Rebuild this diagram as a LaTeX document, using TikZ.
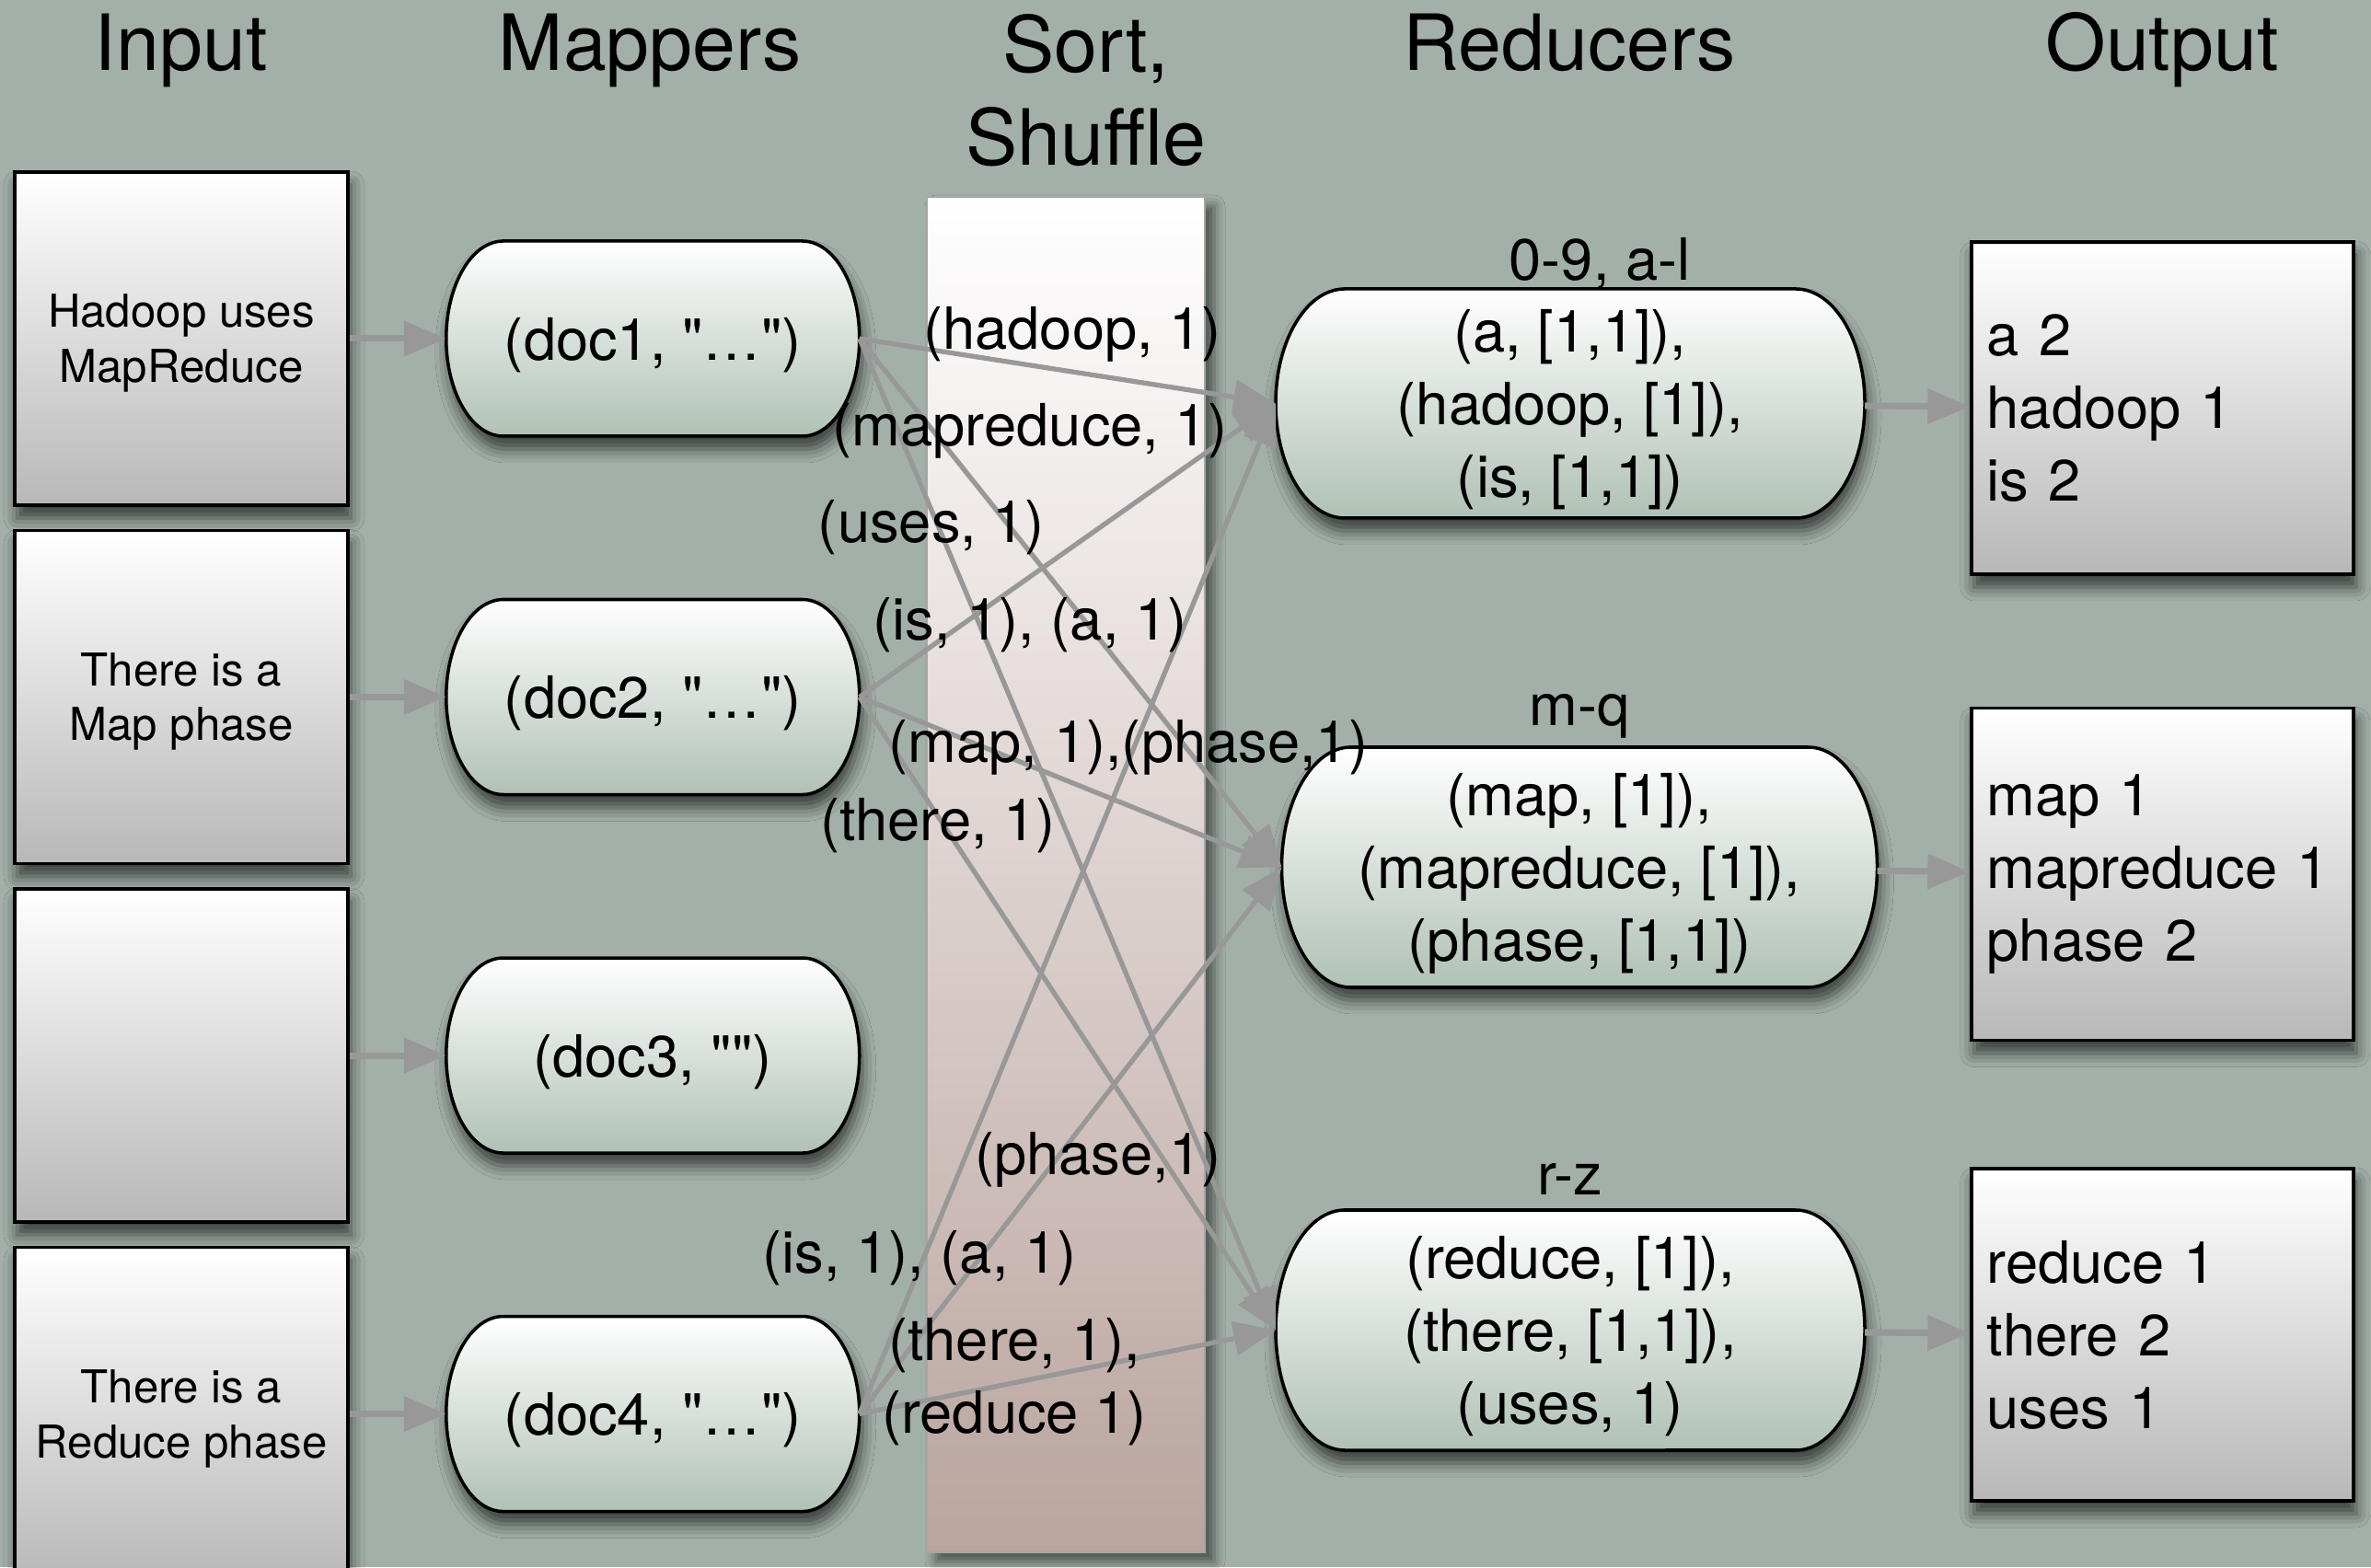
\documentclass[tikz,border=0pt]{standalone}
\usepackage{fontspec}
\setmainfont{TeX Gyre Heros}[Ligatures=TeXOff]
\usepackage{tikz}
\usetikzlibrary{positioning}
\usetikzlibrary{calc}
\usetikzlibrary{arrows.meta}
\usetikzlibrary{shadows.blur}
\usetikzlibrary{backgrounds}
\definecolor{bggreen}{RGB}{163,176,169}
\definecolor{boxgray}{RGB}{184,184,184}
\definecolor{pillgreen}{RGB}{176,193,181}
\definecolor{sortrose}{RGB}{186,164,158}
\definecolor{arrowgray}{RGB}{152,152,152}
\newcommand{\midfont}{\fontsize{18}{22.5}\selectfont}
\newcommand{\pill}[3]{%
	\path[pillface] ($(#1.north west)+(#2,0)$) -- ($(#1.north east)+(-#2,0)$)
		arc[start angle=90,end angle=-90,x radius=#2,y radius=#3]
		-- ($(#1.south west)+(#2,0)$)
		arc[start angle=270,end angle=90,x radius=#2,y radius=#3] -- cycle;}
\tikzset{
	title/.style={font=\fontsize{24}{29}\selectfont,align=center,anchor=base},
	softshadow/.style={blur shadow={shadow xshift=0.3mm,shadow yshift=-1.4mm,shadow blur radius=1.5mm,shadow opacity=65}},
	inbox/.style={draw,line width=1pt,top color=white,bottom color=boxgray,softshadow,
		minimum width=3.62cm,minimum height=3.62cm,align=center,font=\fontsize{14}{17}\selectfont,
		text height=30pt,text depth=3pt},
	outbox/.style={draw,line width=1pt,top color=white,bottom color=boxgray,softshadow,
		text width=3.81cm,inner xsep=0.17cm,minimum height=3.61cm,align=left,font=\midfont},
	mapper/.style={minimum width=4.49cm,minimum height=2.12cm,inner sep=0pt,outer sep=0pt,font=\midfont,
		text height=17pt,text depth=3.8pt},
	reducer/.style={minimum width=6.4cm,minimum height=2.61cm,inner sep=0pt,outer sep=0pt,align=center,font=\midfont,
		text height=61.8pt,text depth=3.8pt},
	pillface/.style={draw,line width=1pt,top color=white,bottom color=pillgreen,softshadow},
	sortbar/.style={top color=white,bottom color=sortrose,draw=gray!70,line width=0.3pt,
		blur shadow={shadow xshift=1mm,shadow yshift=-1mm,shadow blur radius=1.2mm,shadow opacity=55}},
	pair/.style={font=\midfont,inner sep=0pt,align=center},
	flow/.style={->,draw=arrowgray,line width=2pt},
	shuffle/.style={->,draw=arrowgray,line width=1.5pt}
}
\begin{document}
\begin{tikzpicture}[>={Triangle[length=13pt,width=10.5pt]}]
	\useasboundingbox (0,0) rectangle (25.76,17.03);
	\node[title] (tin) at (1.97,16.26) {Input};
	\node[title] (tmap) at (7.06,16.26) {Mappers};
	\node[title] (tsort) at (11.80,15.23) {Sort,\\Shuffle};
	\node[title] (tred) at (17.05,16.26) {Reducers};
	\node[title] (tout) at (23.49,16.26) {Output};

	\node[inbox] (in1) at (1.97,13.35) {Hadoop uses\\MapReduce};
	\node[inbox,below=0.24cm of in1] (in2) {There is a\\Map phase};
	\node[inbox,below=0.24cm of in2] (in3) {};
	\node[inbox,below=0.24cm of in3] (in4) {There is a\\Reduce phase};

	\node[mapper,right=1.05cm of in1] (m1) {(doc1, "…")};
	\node[mapper,right=1.05cm of in2] (m2) {(doc2, "…")};
	\node[mapper,right=1.05cm of in3] (m3) {(doc3, "")};
	\node[mapper,right=1.05cm of in4] (m4) {(doc4, "…")};

	\node[reducer,minimum height=2.49cm] (r1) at (17.06,12.645) {(a, [1,1]),\\(hadoop, [1]),\\(is, [1,1])};
	\node[reducer,minimum width=6.47cm] (r2) at (17.16,7.605) {(map, [1]),\\(mapreduce, [1]),\\(phase, [1,1])};
	\node[reducer] (r3) at (17.06,2.575) {(reduce, [1]),\\(there, [1,1]),\\(uses, 1)};
	\node[pair,anchor=base] (k1) at ($(r1.north)+(0.32,0.09)$) {0-9, a-l};
	\node[pair,anchor=base] (k2) at ($(r2.north)+(0,0.23)$) {m-q};
	\node[pair,anchor=base] (k3) at ($(r3.north)+(0,0.17)$) {r-z};

	\node[outbox,right=1.14cm of r1,yshift=-0.05cm] (o1) {a 2\\hadoop 1\\is 2};
	\node[outbox,below=1.42cm of o1] (o2) {map 1\\mapreduce 1\\phase 2};
	\node[outbox,right=1.14cm of r3,yshift=-0.05cm] (o3) {reduce 1\\there 2\\uses 1};

	\begin{scope}[on background layer]
		\fill[bggreen] (0,0) rectangle (25.76,17.03);
		\path[sortbar] (10.07,0.16) rectangle (13.09,14.89);
		\foreach \n in {m1,m2,m3,m4} \pill{\n}{0.62}{1.06};
		\pill{r1}{0.75}{1.245};
		\pill{r2}{0.75}{1.305};
		\pill{r3}{0.75}{1.305};
	\end{scope}

	\foreach \i in {1,...,4} \draw[flow] (in\i) -- (m\i);
	\foreach \i in {1,2,3} \draw[flow] (r\i) -- (o\i);
	\foreach \m in {m1,m2,m4} {
		\draw[shuffle] (\m.east) -- (r1.west);
		\draw[shuffle] (\m.east) -- (r2.west);
		\draw[shuffle] (\m.east) -- (r3.west);
	}

	\node[pair] (p1) at (11.65,13.40) {(hadoop, 1)};
	\node[pair] (p2) at (11.19,12.35) {(mapreduce, 1)};
	\node[pair] (p3) at (10.12,11.30) {(uses, 1)};
	\node[pair] (p4) at (11.19,10.24) {(is, 1), (a, 1)};
	\node[pair] (p5) at (12.26,8.91) {(map, 1),(phase,1)};
	\node[pair] (p6) at (10.19,8.06) {(there, 1)};
	\node[pair] (p7) at (11.93,4.43) {(phase,1)};
	\node[pair] (p8) at (9.99,3.36) {(is, 1), (a, 1)};
	\node[pair] (p9) at (11.02,2.01) {(there, 1),\\(reduce 1)};
\end{tikzpicture}
\end{document}
